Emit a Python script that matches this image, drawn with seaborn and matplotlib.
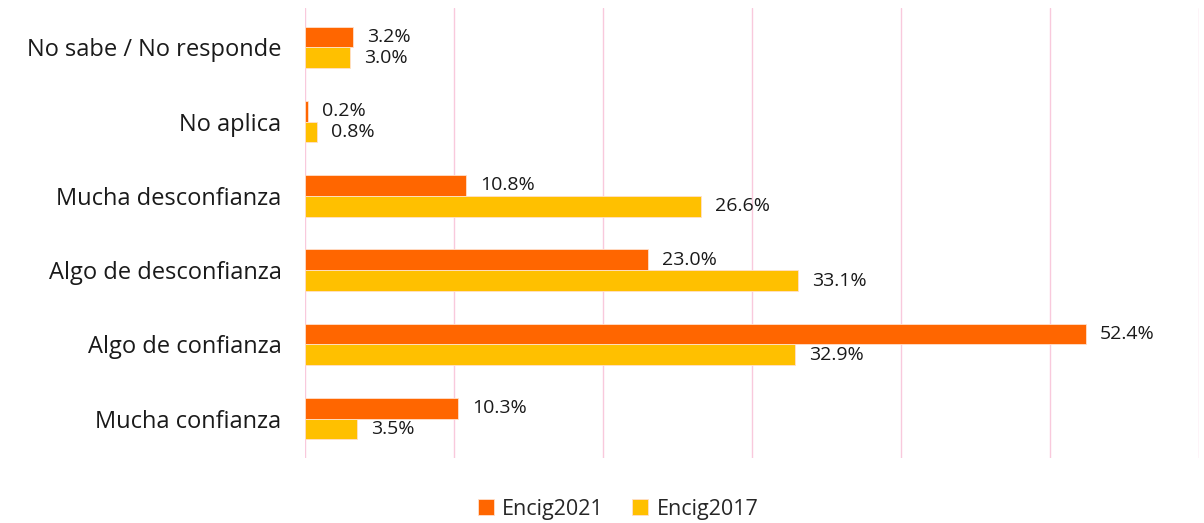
import matplotlib
matplotlib.use("Agg")
import matplotlib.pyplot as plt
import pandas as pd
import seaborn as sns

categories = [
    "No sabe / No responde",
    "No aplica",
    "Mucha desconfianza",
    "Algo de desconfianza",
    "Algo de confianza",
    "Mucha confianza",
]
encig2021 = [3.2, 0.2, 10.8, 23.0, 52.4, 10.3]
encig2017 = [3.0, 0.8, 26.6, 33.1, 32.9, 3.5]
series = ["Encig2021", "Encig2017"]
colors = ["#FF6600", "#FFC000"]

df = pd.DataFrame({
    "categoria": categories * 2,
    "valor": encig2021 + encig2017,
    "serie": [series[0]] * len(categories) + [series[1]] * len(categories),
})

sns.set_style("white")
plt.rcParams["font.family"] = ["Open Sans", "DejaVu Sans"]

fig = plt.figure(figsize=(12.04, 5.23), dpi=100)
ax = fig.add_axes([305 / 1204, 1 - 458 / 523, 894 / 1204, 450 / 523])

sns.barplot(
    data=df,
    x="valor",
    y="categoria",
    hue="serie",
    order=categories,
    hue_order=series,
    palette=colors,
    orient="h",
    width=0.56,
    ax=ax,
    legend=True,
    saturation=1,
    linewidth=0.6,
    edgecolor="#FFE0CC",
)

# --- Labels ---
for container in ax.containers:
    ax.bar_label(container, fmt="%.1f%%", padding=10, fontsize=14, color="#1a1a1a")

ax.set_xlim(0, 60)
ax.set_ylim(5.53, -0.53)
ax.set_xticks(range(0, 61, 10))
ax.set_xticklabels([])
ax.grid(axis="x", color="#F9C9DC", linewidth=1)
ax.set_axisbelow(True)
ax.tick_params(axis="both", length=0)
ax.tick_params(axis="y", labelsize=17, labelcolor="#1a1a1a", pad=17)
ax.set_xlabel("")
ax.set_ylabel("")
sns.despine(ax=ax, left=True, bottom=True)

ax.legend(
    loc="center",
    bbox_to_anchor=(618 / 1204, 1 - 509 / 523),
    bbox_transform=fig.transFigure,
    ncol=2,
    frameon=False,
    fontsize=15.5,
    handlelength=0.75,
    handleheight=0.75,
    handletextpad=0.4,
    columnspacing=1.3,
)

fig.savefig("out.png", dpi=100)
